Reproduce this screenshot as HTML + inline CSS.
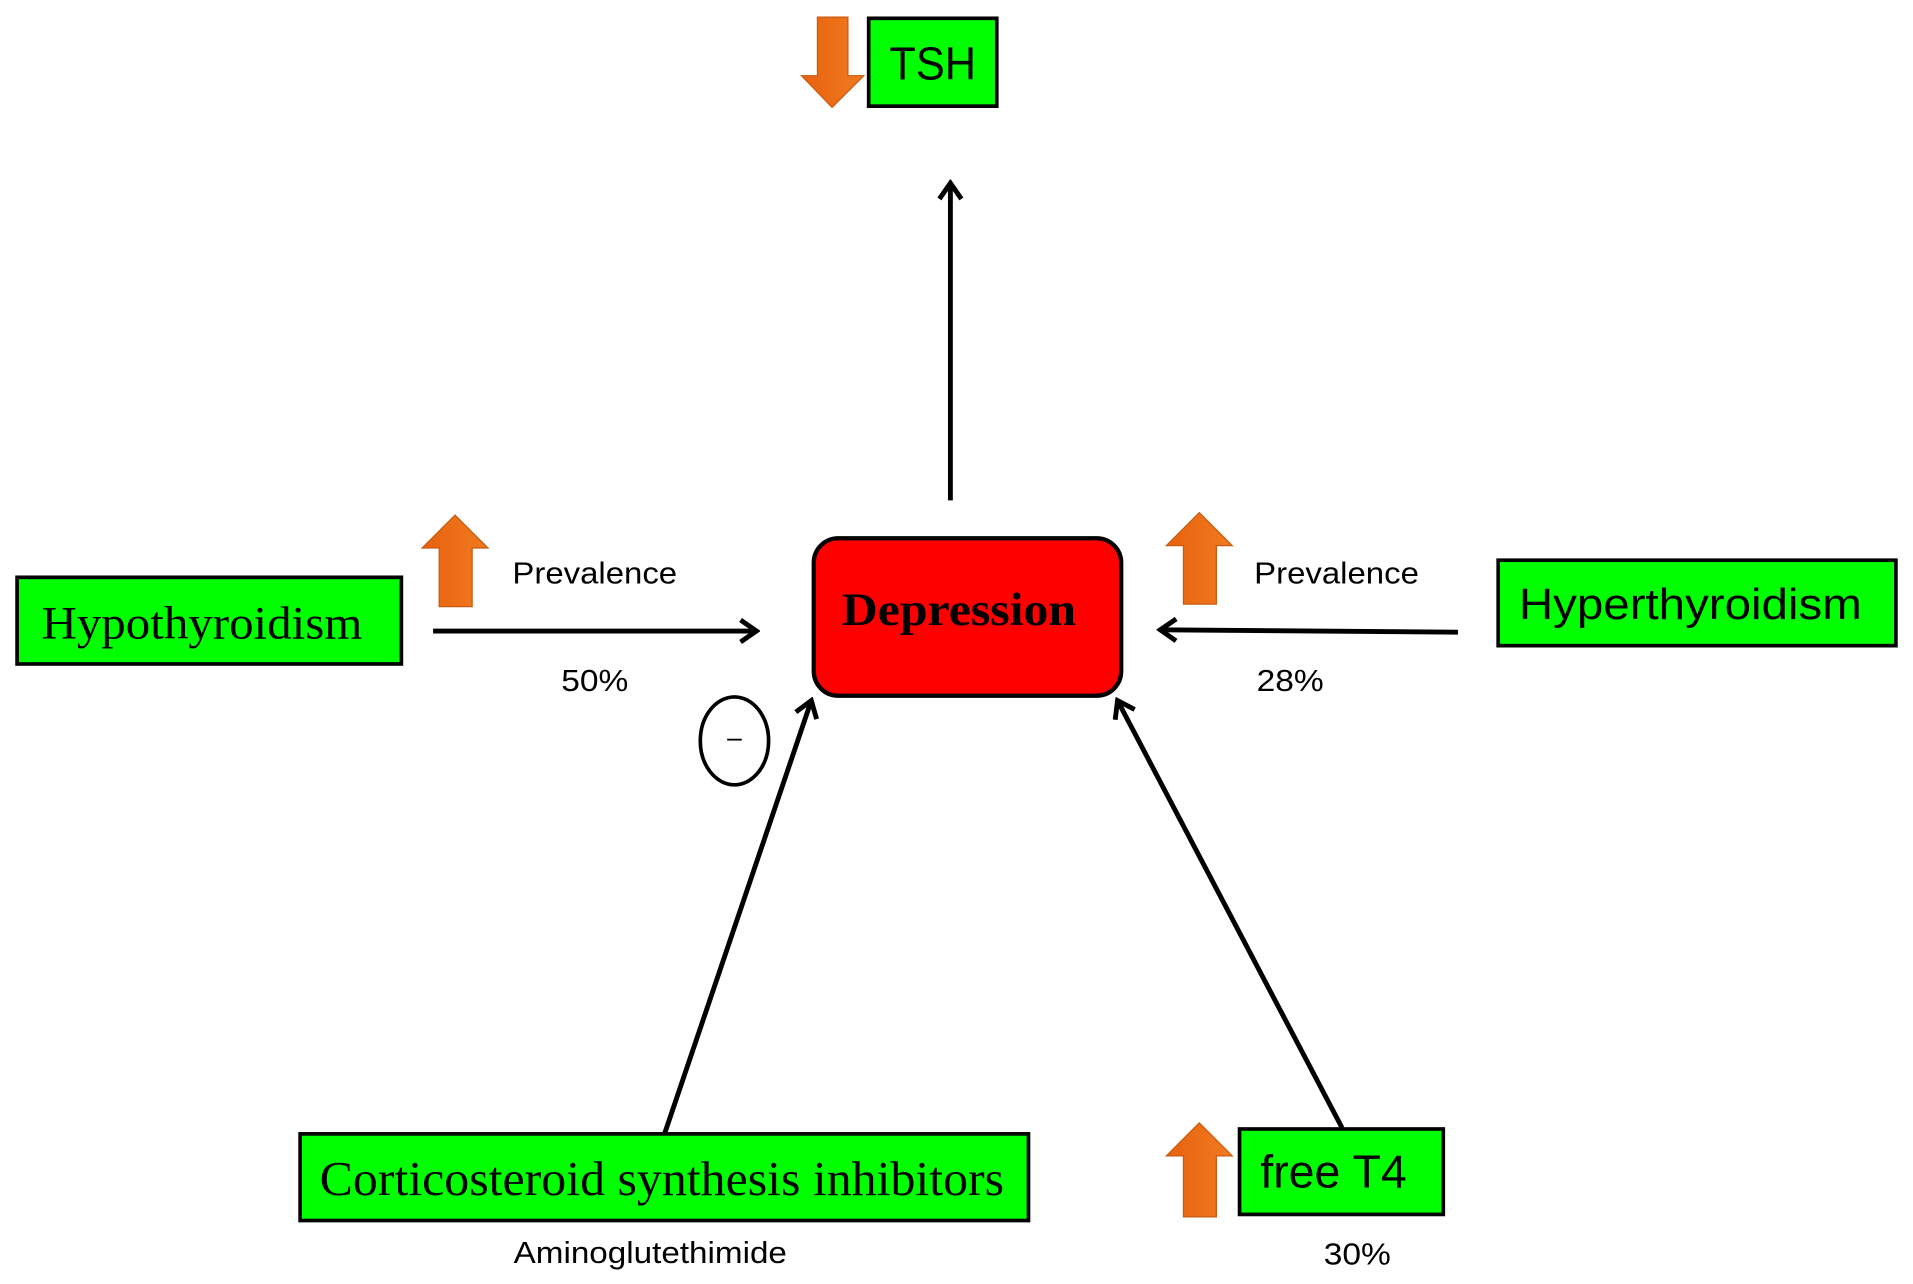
<!DOCTYPE html>
<html><head><style>html,body{margin:0;padding:0;background:#fff;}svg{display:block}</style></head>
<body>
<svg width="1913" height="1284" viewBox="0 0 1568 1052" preserveAspectRatio="none" xmlns="http://www.w3.org/2000/svg">
<defs>
<marker id="ah" markerWidth="18" markerHeight="22" refX="15" refY="11" orient="auto" markerUnits="userSpaceOnUse">
<path d="M2,2 L15,11 L2,20" fill="none" stroke="#000" stroke-width="4"/>
</marker>
<linearGradient id="og" x1="0" x2="1"><stop offset="0" stop-color="#e8620e"/><stop offset="1" stop-color="#f07a20"/></linearGradient>
</defs>
<!-- TSH -->
<path d="M670,14 L695,14 L695,62 L708,62 L682,88 L657,62 L670,62 Z" fill="url(#og)" stroke="#c85a10" stroke-width="1"/>
<rect x="712" y="15" width="105" height="72" fill="#00ff00" stroke="#000" stroke-width="3"/>
<text x="729" y="65" font-family="Liberation Sans, sans-serif" font-size="38" textLength="71" lengthAdjust="spacingAndGlyphs">TSH</text>
<line x1="779" y1="410" x2="779" y2="150" stroke="#000" stroke-width="4" marker-end="url(#ah)"/>
<!-- Depression -->
<rect x="667" y="441" width="252" height="129" rx="20" fill="#ff0000" stroke="#000" stroke-width="3.5"/>
<text x="690" y="512" font-family="Liberation Serif, serif" font-weight="bold" font-size="38" textLength="192" lengthAdjust="spacingAndGlyphs">Depression</text>
<!-- Hypothyroidism -->
<rect x="14" y="473" width="315" height="71" fill="#00ff00" stroke="#000" stroke-width="3"/>
<text x="34" y="523" font-family="Liberation Serif, serif" font-size="38" textLength="263" lengthAdjust="spacingAndGlyphs">Hypothyroidism</text>
<path d="M360,497 L387,497 L387,449 L400,449 L373,422 L346,449 L360,449 Z" fill="url(#og)" stroke="#c85a10" stroke-width="1"/>
<text x="420" y="478" font-family="Liberation Sans, sans-serif" font-size="25" textLength="135" lengthAdjust="spacingAndGlyphs">Prevalence</text>
<text x="460" y="566" font-family="Liberation Sans, sans-serif" font-size="25" textLength="55" lengthAdjust="spacingAndGlyphs">50%</text>
<line x1="355" y1="517" x2="620" y2="517" stroke="#000" stroke-width="4" marker-end="url(#ah)"/>
<!-- Hyperthyroidism -->
<rect x="1228" y="459" width="326" height="70" fill="#00ff00" stroke="#000" stroke-width="3"/>
<text x="1245" y="507" font-family="Liberation Sans, sans-serif" font-size="36" textLength="281" lengthAdjust="spacingAndGlyphs">Hyperthyroidism</text>
<path d="M970,495 L997,495 L997,447 L1010,447 L983,420 L956,447 L970,447 Z" fill="url(#og)" stroke="#c85a10" stroke-width="1"/>
<text x="1028" y="478" font-family="Liberation Sans, sans-serif" font-size="25" textLength="135" lengthAdjust="spacingAndGlyphs">Prevalence</text>
<text x="1030" y="566" font-family="Liberation Sans, sans-serif" font-size="25" textLength="55" lengthAdjust="spacingAndGlyphs">28%</text>
<line x1="1195" y1="518" x2="951" y2="516" stroke="#000" stroke-width="4" marker-end="url(#ah)"/>
<!-- minus circle -->
<ellipse cx="602" cy="607" rx="28" ry="36" fill="none" stroke="#000" stroke-width="3"/>
<line x1="596" y1="606" x2="608" y2="606" stroke="#000" stroke-width="1.5"/>
<!-- connectors -->
<line x1="545" y1="928" x2="665" y2="574" stroke="#000" stroke-width="4" marker-end="url(#ah)"/>
<line x1="1100" y1="924" x2="916" y2="574" stroke="#000" stroke-width="4" marker-end="url(#ah)"/>
<!-- Corticosteroid -->
<rect x="246" y="929" width="597" height="71" fill="#00ff00" stroke="#000" stroke-width="3"/>
<text x="262" y="979" font-family="Liberation Serif, serif" font-size="40" textLength="561" lengthAdjust="spacingAndGlyphs">Corticosteroid synthesis inhibitors</text>
<text x="421" y="1035" font-family="Liberation Sans, sans-serif" font-size="25" textLength="224" lengthAdjust="spacingAndGlyphs">Aminoglutethimide</text>
<!-- free T4 -->
<path d="M970,997 L997,997 L997,947 L1010,947 L983,920 L956,947 L970,947 Z" fill="url(#og)" stroke="#c85a10" stroke-width="1"/>
<rect x="1016" y="925" width="167" height="70" fill="#00ff00" stroke="#000" stroke-width="3"/>
<text x="1033" y="973" font-family="Liberation Sans, sans-serif" font-size="38" textLength="120" lengthAdjust="spacingAndGlyphs">free T4</text>
<text x="1085" y="1036" font-family="Liberation Sans, sans-serif" font-size="25" textLength="55" lengthAdjust="spacingAndGlyphs">30%</text>
</svg>
</body></html>
